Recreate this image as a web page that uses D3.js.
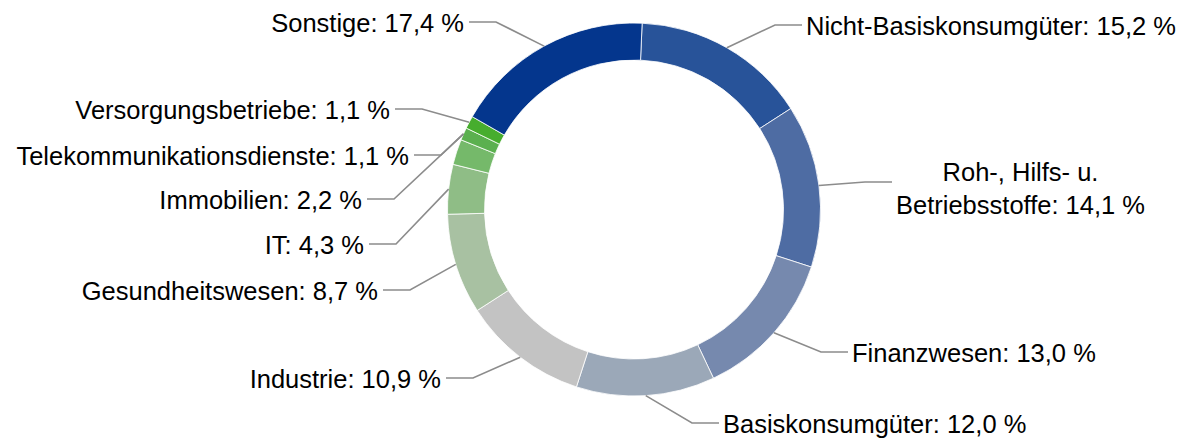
<!DOCTYPE html>
<html>
<head>
<meta charset="utf-8">
<script src="https://cdn.jsdelivr.net/npm/d3@7"></script>
<style>
  body { margin: 0; background: #fff; }
  svg text { font-family: "Liberation Sans", Arial, sans-serif; font-size: 25.5px; fill: #000; }
</style>
</head>
<body>
<div id="chart"></div>
<script>
// sector weights, clockwise from the top
var sectors = ["Nicht-Basiskonsumgüter", "Roh-, Hilfs- u. Betriebsstoffe", "Finanzwesen",
    "Basiskonsumgüter", "Industrie", "Gesundheitswesen", "IT", "Immobilien",
    "Telekommunikationsdienste", "Versorgungsbetriebe", "Sonstige"];
var shares = [15.2, 14.1, 13.0, 12.0, 10.9, 8.7, 4.3, 2.2, 1.1, 1.1, 17.4];

var colors = ["#285399", "#4e6ca3", "#7689ae", "#9ba8b8", "#c3c3c3", "#a8c1a2",
    "#8fbd86", "#75b96a", "#5bb04f", "#47ad2e", "#04368d"];

// where each label sits (text edge next to the leader line, line height)
var labelSide = ["right", "right", "right", "right", "left", "left", "left", "left", "left", "left", "left"];
var labelX = [806, 896, 852, 723, 441, 378, 364, 362, 409, 390, 464];
var labelY = [25, 182, 352, 423, 378, 290, 244, 199, 155, 109, 22];
// slice each leader line points to (Immobilien line runs up to the Telekom slice)
var leaderTo = [0, 1, 2, 3, 4, 5, 6, 8, 8, 9, 10];

var width = 1187, height = 439;
var cx = 634, cy = 209.5;
var outerR = 186.5, innerR = 149.5;
var rot = 2.5 * Math.PI / 180;

var svg = d3.select("#chart")
    .append("svg")
    .attr("width", width)
    .attr("height", height);

var pie = d3.pie()
    .sort(null)
    .value(function(d) { return d; })
    .startAngle(rot)
    .endAngle(rot + 2 * Math.PI);

var arc = d3.arc()
    .innerRadius(innerR)
    .outerRadius(outerR);

var arcs = pie(shares);

var g = svg.append("g")
    .attr("transform", "translate(" + cx + "," + cy + ")");

g.selectAll("path.slice")
    .data(arcs)
    .enter()
    .append("path")
    .attr("class", "slice")
    .attr("d", arc)
    .attr("fill", function(d, i) { return colors[i]; })
    .attr("stroke", "#fff")
    .attr("stroke-width", 0.8);

function fmt(v) {
    return d3.format(".1f")(v).replace(".", ",") + " %";
}

// leader lines
var lines = svg.append("g");
sectors.forEach(function(name, i) {
    var d = arcs[leaderTo[i]];
    var a = (d.startAngle + d.endAngle) / 2;
    var ex = cx + outerR * Math.sin(a), ey = cy - outerR * Math.cos(a);
    var y = labelY[i];
    var hx, bx;
    if (labelSide[i] == "right") {
        hx = labelX[i] - 4;
        bx = hx - 27;
    } else {
        hx = labelX[i] + 5;
        bx = hx + 27;
    }
    lines.append("polyline")
        .attr("points", [[ex, ey], [bx, y], [hx, y]].map(function(p) { return p.join(","); }).join(" "))
        .attr("fill", "none")
        .attr("stroke", "#8c8c8c")
        .attr("stroke-width", 1.6);
});

// labels
var labels = svg.append("g");
sectors.forEach(function(name, i) {
    var txt = name + ": " + fmt(shares[i]);
    if (name.indexOf(" u. ") > 0) {
        // two line label
        var parts = [name.split(" u. ")[0] + " u.", name.split(" u. ")[1] + ": " + fmt(shares[i])];
        var t = labels.append("text")
            .attr("text-anchor", "middle");
        var l2 = t.append("tspan").text(parts[1]);
        var w = l2.node().getComputedTextLength();
        var mx = labelX[i] + w / 2;
        l2.remove();
        t.append("tspan").attr("x", mx).attr("y", labelY[i] - 1.5).text(parts[0]);
        t.append("tspan").attr("x", mx).attr("y", labelY[i] + 32).text(parts[1]);
    } else {
        labels.append("text")
            .attr("x", labelX[i])
            .attr("y", labelY[i] + 10)
            .attr("text-anchor", labelSide[i] == "right" ? "start" : "end")
            .text(txt);
    }
});
</script>
</body>
</html>
